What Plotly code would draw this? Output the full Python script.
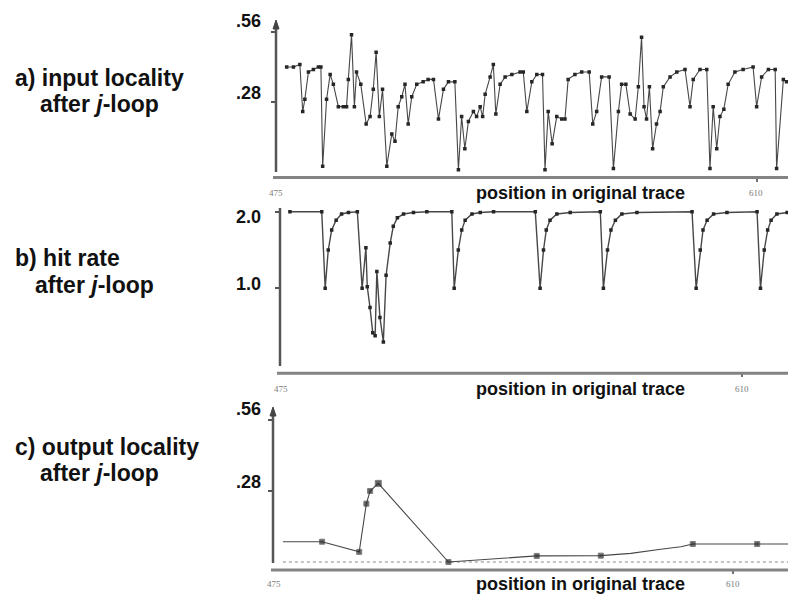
import plotly.graph_objects as go

# ---- data: positions in the original trace and the measured values ----
# a) input locality after j-loop
a_pos = [478.0, 479.9, 481.7, 482.5, 483.1, 484.1, 485.5, 486.9, 487.6, 488.1,
         489.2, 490.2, 491.1, 492.5, 493.9, 494.8, 495.3, 496.2, 497.0, 497.6,
         498.8, 500.3, 501.4, 502.3, 503.1, 504.0, 504.9, 506.1, 507.5, 508.4,
         509.3, 510.3, 511.2, 512.1, 513.1, 514.5, 516.3, 517.7, 519.2, 520.6,
         522.0, 523.4, 525.2, 526.2, 527.1, 528.0, 529.0, 530.4, 531.3, 532.3,
         533.0, 533.7, 535.1, 536.0, 536.7, 537.9, 539.3, 541.2, 543.5, 544.4,
         545.4, 546.8, 548.2, 549.8, 550.5, 551.4, 552.5, 553.8, 555.2, 556.1,
         557.0, 558.9, 560.8, 562.9, 563.9, 565.0, 566.4, 568.5, 569.7, 571.1,
         572.0, 573.2, 574.4, 575.8, 576.7, 577.6, 578.3, 579.0, 579.8, 580.7,
         581.8, 582.8, 583.7, 585.6, 587.5, 589.8, 591.2, 592.1, 594.0, 595.9,
         596.8, 597.7, 598.7, 599.6, 600.7, 601.9, 603.8, 606.1, 608.9, 609.9,
         611.3, 613.2, 615.1, 615.5, 617.4, 618.3]
a_val = [0.42, 0.42, 0.43, 0.24, 0.29, 0.40, 0.41, 0.42, 0.42, 0.02,
         0.29, 0.39, 0.35, 0.26, 0.26, 0.26, 0.37, 0.55, 0.26, 0.40,
         0.35, 0.19, 0.22, 0.33, 0.48, 0.22, 0.33, 0.02, 0.15, 0.12,
         0.26, 0.30, 0.35, 0.19, 0.30, 0.35, 0.36, 0.37, 0.37, 0.21,
         0.33, 0.36, 0.36, 0.005, 0.22, 0.09, 0.20, 0.24, 0.22, 0.26,
         0.22, 0.31, 0.38, 0.43, 0.23, 0.35, 0.38, 0.39, 0.40, 0.40,
         0.24, 0.36, 0.39, 0.39, 0.005, 0.24, 0.11, 0.22, 0.21, 0.21,
         0.37, 0.39, 0.40, 0.40, 0.19, 0.24, 0.38, 0.38, 0.01, 0.24,
         0.35, 0.35, 0.23, 0.21, 0.34, 0.54, 0.26, 0.21, 0.34, 0.09,
         0.19, 0.24, 0.34, 0.38, 0.40, 0.41, 0.26, 0.37, 0.41, 0.41,
         0.01, 0.26, 0.09, 0.22, 0.25, 0.35, 0.40, 0.41, 0.42, 0.26,
         0.38, 0.41, 0.41, 0.01, 0.37, 0.36]

# b) hit rate after j-loop
b_pos = [477.9, 487.2, 488.2, 489.1, 490.1, 491.4, 493.0, 495.0, 497.6, 499.0,
         500.1, 500.5, 501.3, 502.1, 502.8, 503.3, 504.2, 505.2, 506.0, 507.2,
         508.1, 509.3, 511.1, 514.0, 517.9, 525.2, 525.9, 527.1, 528.1, 529.1,
         531.1, 533.5, 537.4, 549.6, 551.0, 552.0, 552.8, 553.9, 555.9, 559.8,
         568.6, 569.5, 570.7, 571.7, 573.0, 574.9, 579.3, 595.4, 596.6, 597.8,
         598.6, 599.8, 601.7, 605.6, 614.4, 615.4, 616.5, 617.5, 618.5, 620.2,
         623.2]
b_val = [2.0, 2.0, 1.0, 1.50, 1.76, 1.89, 1.97, 1.99, 2.0, 1.0,
         1.53, 1.02, 0.75, 0.42, 0.38, 1.22, 0.62, 0.30, 1.17, 1.59,
         1.81, 1.92, 1.97, 1.99, 2.0, 2.0, 1.0, 1.50, 1.76, 1.89,
         1.97, 1.99, 2.0, 2.0, 1.0, 1.50, 1.76, 1.89, 1.97, 1.99,
         2.0, 1.0, 1.50, 1.76, 1.89, 1.97, 1.99, 2.0, 1.0, 1.50,
         1.76, 1.89, 1.97, 1.99, 2.0, 1.0, 1.50, 1.76, 1.89, 1.97,
         1.99]

# c) output locality after j-loop
c_pos = [477.9, 489.4, 500.3, 502.4, 503.5, 505.9, 526.5, 552.4, 571.2,
         580.0, 588.8, 594.7, 598.2, 617.1, 626.5]
c_val = [0.08, 0.08, 0.04, 0.23, 0.28, 0.31, 0.0, 0.024, 0.025,
         0.034, 0.05, 0.06, 0.071, 0.071, 0.071]

x_tick_labels = ["475", "610"]
a_ticks = [0.28, 0.56]
b_ticks = [1.0, 2.0]
c_ticks = [0.28, 0.56]
a_tick_text = [".28", ".56"]
b_tick_text = ["1.0", "2.0"]
c_tick_text = [".28", ".56"]

# ---- figure geometry (pixels of the 788 x 594 page) ----
W, H = 788, 594
FONT = "Liberation Sans, Arial, Helvetica, sans-serif"


def px(x):
    return x / W


def py(y):
    return 1 - y / H


LINE = "#474747"
MARK = "#262626"

fig = go.Figure()

fig.add_trace(go.Scatter(
    x=a_pos, y=a_val, mode="lines+markers", xaxis="x", yaxis="y",
    line=dict(color=LINE, width=1.1),
    marker=dict(symbol="square", size=3.5, color=MARK),
    showlegend=False, hoverinfo="skip"))

fig.add_trace(go.Scatter(
    x=b_pos, y=b_val, mode="lines+markers", xaxis="x2", yaxis="y2",
    line=dict(color=LINE, width=1.4),
    marker=dict(symbol="square", size=3.5, color=MARK),
    showlegend=False, hoverinfo="skip"))

# zero-level positions of panel c, drawn as a faint dotted run
fig.add_trace(go.Scatter(
    x=[c_pos[0], c_pos[-1]], y=[0, 0], mode="lines", xaxis="x3", yaxis="y3",
    line=dict(color="#b0b0b0", width=1.6, dash="dot"),
    showlegend=False, hoverinfo="skip"))

c_marker_size = [0, 5, 5, 5, 5, 6, 5, 5, 5, 0, 0, 0, 5, 5, 0]
fig.add_trace(go.Scatter(
    x=c_pos, y=c_val, mode="lines+markers", xaxis="x3", yaxis="y3",
    line=dict(color=LINE, width=1.1),
    marker=dict(symbol="square", size=c_marker_size, color=MARK),
    showlegend=False, hoverinfo="skip"))

# ---- axes ----
def xax(left, x_at_610, anchor):
    per_unit = (x_at_610 - left) / 135.0
    right = 475 + (W - left) / per_unit
    return dict(domain=[px(left), 1], range=[475, right], anchor=anchor,
                showgrid=False, zeroline=False, showline=False,
                tickvals=[610], ticks="outside", ticklen=3, tickwidth=1.5,
                tickcolor="#707070", showticklabels=False, fixedrange=True)


def yax(top_px, bottom_px, v_hi, y_hi, v_lo, y_lo, tickvals, anchor):
    per_px = (v_hi - v_lo) / (y_lo - y_hi)
    r_top = v_hi + (y_hi - top_px) * per_px
    r_bot = v_lo - (bottom_px - y_lo) * per_px
    return dict(domain=[py(bottom_px), py(top_px)], range=[r_bot, r_top],
                anchor=anchor, showgrid=False, zeroline=False, showline=False,
                tickvals=tickvals, ticks="outside", ticklen=4, tickwidth=1.5,
                tickcolor="#555555", showticklabels=False, fixedrange=True)


fig.update_layout(
    width=W, height=H,
    margin=dict(l=0, r=0, t=0, b=0),
    paper_bgcolor="white", plot_bgcolor="rgba(0,0,0,0)",
    xaxis=xax(276, 757, "y"),
    xaxis2=xax(280, 742, "y2"),
    xaxis3=xax(273, 733, "y3"),
    yaxis=yax(18, 177.5, 0.56, 32.3, 0.28, 101.7, a_ticks, "x"),
    yaxis2=yax(203, 373.3, 2.0, 211.7, 1.0, 288.3, b_ticks, "x2"),
    yaxis3=yax(403, 570, 0.56, 420, 0.28, 491, c_ticks, "x3"),
)

shapes = []
annotations = []

# axis lines and arrowheads drawn in page coordinates
panels = [
    # (y-axis x, y-axis top, y-axis bottom, x-axis y, x-axis start, arrow)
    (276, 24, 172, 177.5, 273, True),
    (280, 208, 366, 373.3, 277, False),
    (273, 411, 563, 570, 271, True),
]
for ax_x, top, bot, base_y, start, arrow in panels:
    shapes.append(dict(type="line", xref="paper", yref="paper",
                       x0=px(start), x1=1, y0=py(base_y), y1=py(base_y),
                       line=dict(color="#838383", width=3)))
    shapes.append(dict(type="line", xref="paper", yref="paper",
                       x0=px(ax_x), x1=px(ax_x), y0=py(bot), y1=py(top),
                       line=dict(color="#565656", width=2.5)))
    if arrow:
        path = (f"M {px(ax_x - 3)} {py(top + 5)} L {px(ax_x + 3)} {py(top + 5)} "
                f"L {px(ax_x)} {py(top - 4)} Z")
        shapes.append(dict(type="path", xref="paper", yref="paper", path=path,
                           fillcolor="#444444", line=dict(color="#444444", width=1)))

# y tick labels
tick_label_pos = [
    (a_tick_text, [93, 21]),
    (b_tick_text, [284, 217]),
    (c_tick_text, [482, 409]),
]
for texts, ys in tick_label_pos:
    for t, yy in zip(texts, ys):
        annotations.append(dict(text=f"<b>{t}</b>", xref="paper", yref="paper",
                                x=px(263), y=py(yy), xanchor="right", yanchor="middle",
                                showarrow=False,
                                font=dict(family=FONT, size=18, color="#111111")))

# x tick labels and axis titles
x_lab = [
    (276, 756, 193),
    (281, 742, 389),
    (274, 733, 584),
]
for x475, x610, yy in x_lab:
    for t, xx in zip(x_tick_labels, [x475, x610]):
        annotations.append(dict(text=t, xref="paper", yref="paper",
                                x=px(xx), y=py(yy), xanchor="center", yanchor="middle",
                                showarrow=False,
                                font=dict(family="Liberation Serif, serif", size=9,
                                          color="#7a7a7a")))
    annotations.append(dict(text="<b>position in original trace</b>",
                            xref="paper", yref="paper", x=px(580.5), y=py(yy),
                            xanchor="center", yanchor="middle", showarrow=False,
                            font=dict(family=FONT, size=18, color="#111111")))

# panel captions
captions = [
    ("<b>a) input locality</b>", 13, 78),
    ("<b>after <i>j</i>-loop</b>", 38, 104),
    ("<b>b) hit rate</b>", 13, 258),
    ("<b>after <i>j</i>-loop</b>", 33, 285),
    ("<b>c) output locality</b>", 13, 447),
    ("<b>after <i>j</i>-loop</b>", 38, 473),
]
for t, xx, yy in captions:
    annotations.append(dict(text=t, xref="paper", yref="paper",
                            x=px(xx), y=py(yy), xanchor="left", yanchor="middle",
                            showarrow=False,
                            font=dict(family=FONT, size=23, color="#111111")))

fig.update_layout(shapes=shapes, annotations=annotations)

fig.write_html("out.html")
